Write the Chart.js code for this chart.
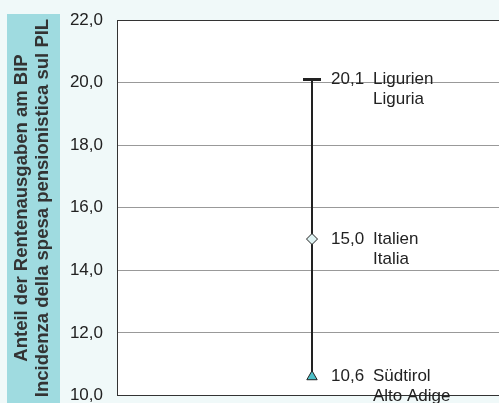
<!DOCTYPE html>
<html>
<head>
<meta charset="utf-8">
<script src="https://cdn.jsdelivr.net/npm/chart.js@4"></script>
<style>
  html, body { margin: 0; padding: 0; background: #f0f9f9; overflow: hidden; }
  canvas { display: block; }
</style>
</head>
<body>
<canvas id="myChart" width="507" height="403"></canvas>
<script>
// values
const values = [20.1, 15.0, 10.6];
const regionsDe = ["Ligurien", "Italien", "Südtirol"];
const regionsIt = ["Liguria", "Italia", "Alto Adige"];
const yTitle = ["Anteil der Rentenausgaben am BIP", "Incidenza della spesa pensionistica sul PIL"];
const yMin = 10;
const yMax = 22;
const yStep = 2;

const fmt = (v) => v.toFixed(1).replace(".", ",");
const FONT = "'Liberation Sans', Arial, sans-serif";

// page background + teal box behind the y axis title
const backgroundPlugin = {
  id: "background",
  beforeDraw(chart) {
    const ctx = chart.ctx;
    ctx.save();
    ctx.fillStyle = "#f0f9f9";
    ctx.fillRect(0, 0, chart.width, chart.height);
    ctx.fillStyle = "#9fdbe0";
    ctx.fillRect(7, 14, 53, chart.height - 14);
    ctx.fillStyle = "#ffffff";
    const a = chart.chartArea;
    ctx.fillRect(a.left, a.top, a.right - a.left, a.bottom - a.top);

    // rotated title, both lines centred
    ctx.rotate(-Math.PI / 2);
    ctx.font = "bold 18.5px " + FONT;
    ctx.fillStyle = "#333333";
    ctx.textAlign = "center";
    ctx.textBaseline = "middle";
    ctx.fillText(yTitle[0], -208, 22);
    ctx.fillText(yTitle[1], -208, 43);
    ctx.restore();
  },
};

// value and region labels next to each marker
const labelPlugin = {
  id: "pointLabels",
  afterDraw(chart) {
    const ctx = chart.ctx;
    const meta = chart.getDatasetMeta(0);
    ctx.save();
    ctx.font = "17px " + FONT;
    ctx.fillStyle = "#222222";
    ctx.textBaseline = "middle";
    ctx.textAlign = "left";
    meta.data.forEach((pt, i) => {
      const x = pt.x;
      const y = chart.scales.y.getPixelForValue(values[i]);
      ctx.fillText(fmt(values[i]), x + 19, y);
      ctx.fillText(regionsDe[i], x + 61, y);
      ctx.fillText(regionsIt[i], x + 61, y + 20);
    });
    ctx.restore();
  },
};

const ctx = document.getElementById("myChart").getContext("2d");

const chart = new Chart(ctx, {
  type: "line",
  data: {
    labels: [""],
    datasets: [
      {
        data: values.map((v) => ({ x: "", y: v })),
        borderColor: "#222222",
        borderWidth: 2,
        pointStyle: ["line", "rectRot", "triangle"],
        pointRadius: [9, 5.5, 6],
        pointBorderWidth: [3, 1, 1],
        pointBackgroundColor: ["#222222", "#dff3f3", "#4fc1c9"],
        pointBorderColor: ["#222222", "#222222", "#222222"],
        fill: false,
      },
    ],
  },
  options: {
    responsive: false,
    animation: false,
    layout: { autoPadding: false, padding: { top: 20, bottom: 7.5, left: 0, right: 0 } },
    plugins: {
      legend: { display: false },
      tooltip: { enabled: false },
    },
    scales: {
      x: {
        type: "category",
        offset: true,
        display: false,
      },
      y: {
        min: yMin,
        max: yMax,
        ticks: {
          stepSize: yStep,
          padding: 14,
          color: "#222222",
          font: { family: FONT, size: 17 },
          callback: (v) => fmt(v),
        },
        grid: {
          drawTicks: false,
          color: (c) => (c.tick && (c.tick.value === yMax || c.tick.value === yMin) ? "#333333" : "#999999"),
          lineWidth: 1,
        },
        border: { display: true, color: "#333333", width: 1 },
        afterFit(scale) {
          scale.width = 117;
          scale.paddingTop = 0;
          scale.paddingBottom = 0;
        },
      },
    },
  },
  plugins: [backgroundPlugin, labelPlugin],
});
</script>
</body>
</html>
